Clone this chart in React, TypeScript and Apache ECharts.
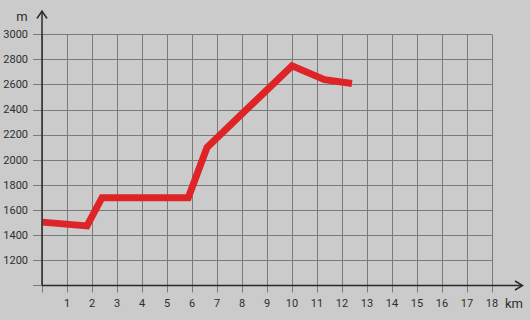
import React, { useEffect, useRef } from "react";
import * as echarts from "echarts";

const distKm = [0, 1.8, 2.4, 5.85, 6.6, 10, 11.3, 12.4];
const elevM = [1505, 1475, 1700, 1700, 2100, 2750, 2640, 2610];
const xTickLabels = ["1", "2", "3", "4", "5", "6", "7", "8", "9", "10", "11", "12", "13", "14", "15", "16", "17", "18"];
const yTickLabels = ["1200", "1400", "1600", "1800", "2000", "2200", "2400", "2600", "2800", "3000"];
const xUnit = "km";
const yUnit = "m";

export default function App() {
  const ref = useRef<HTMLDivElement>(null);
  useEffect(() => {
    if (!ref.current) return;
    const chart = echarts.init(ref.current, null, { renderer: "svg" });
    const gridColor = "#7a7a7a";
    const axisColor = "#2a2a2a";
    const textColor = "#2e2e2e";
    const font = "Roboto, 'Noto Sans', sans-serif";
    chart.setOption({
      animation: false,
      backgroundColor: "#cbcbcb",
      grid: { left: 42, right: 38, top: 34.5, bottom: 34.5, containLabel: false },
      xAxis: {
        type: "value",
        min: 0,
        max: 18,
        interval: 1,
        axisLine: { show: false },
        axisTick: { show: true, length: 7, lineStyle: { color: gridColor, width: 1 } },
        splitLine: { show: true, lineStyle: { color: gridColor, width: 1 } },
        axisLabel: {
          margin: 12,
          color: textColor,
          fontSize: 11,
          fontFamily: font,
          formatter: (v: number) => (xTickLabels.includes(String(v)) ? String(v) : ""),
        },
      },
      yAxis: {
        type: "value",
        min: 1000,
        max: 3000,
        interval: 200,
        axisLine: { show: false },
        axisTick: { show: true, length: 9, lineStyle: { color: gridColor, width: 1 } },
        splitLine: { show: true, lineStyle: { color: gridColor, width: 1 } },
        axisLabel: {
          margin: 14,
          color: textColor,
          fontSize: 11,
          fontFamily: font,
          formatter: (v: number) => (yTickLabels.includes(String(v)) ? String(v) : ""),
        },
      },
      series: [
        {
          type: "line",
          data: distKm.map((d, i) => [d, elevM[i]]),
          symbol: "none",
          lineStyle: { color: "#de2426", width: 7, join: "miter" },
          z: 5,
        },
      ],
      graphic: [
        { type: "line", shape: { x1: 42, y1: 285.5, x2: 42, y2: 11 }, style: { stroke: axisColor, lineWidth: 1.5 }, z: 10 },
        { type: "polyline", shape: { points: [[37, 18.5], [42, 11], [47, 18.5]] }, style: { stroke: axisColor, lineWidth: 1.5, fill: "none" }, z: 10 },
        { type: "line", shape: { x1: 42, y1: 285.5, x2: 522, y2: 285.5 }, style: { stroke: axisColor, lineWidth: 1.5 }, z: 10 },
        { type: "polyline", shape: { points: [[515, 281], [522.5, 285.5], [515, 290]] }, style: { stroke: axisColor, lineWidth: 1.5, fill: "none" }, z: 10 },
        { type: "text", x: 22, y: 16, style: { text: yUnit, fill: textColor, fontSize: 13, fontFamily: font, align: "center", verticalAlign: "middle" } },
        { type: "text", x: 514, y: 303, style: { text: xUnit, fill: textColor, fontSize: 13, fontFamily: font, align: "center", verticalAlign: "middle" } },
      ],
    });
    return () => chart.dispose();
  }, []);
  return <div ref={ref} style={{ position: "fixed", left: 0, top: 0, width: 530, height: 320 }} />;
}
